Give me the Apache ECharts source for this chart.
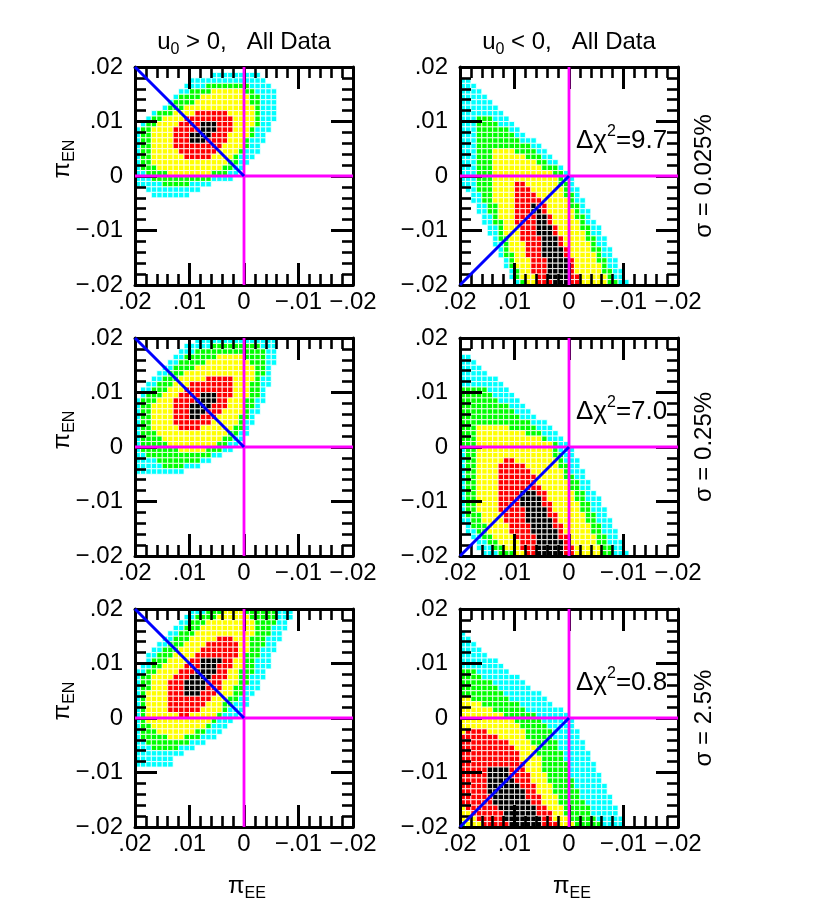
<!DOCTYPE html>
<html><head><meta charset="utf-8">
<script src="https://cdn.jsdelivr.net/npm/echarts@6/dist/echarts.min.js"></script>
<style>html,body{margin:0;padding:0;background:#fff}#c{width:830px;height:923px}</style>
</head><body><div id="c"></div>
<script>
// ---------- data ----------
const tickLabels = ['\u2212.02', '\u2212.01', '0', '.01', '.02'];   // for -0.02 ... 0.02
const columnTitlePrefix = ['u', 'u'];
const columnTitleSub = ['0', '0'];
const columnTitleRest = [' > 0,   All Data', ' < 0,   All Data'];
const sigmaLabels = ['\u03c3 = 0.025%', '\u03c3 = 0.25%', '\u03c3 = 2.5%'];
const deltaChi2 = ['9.7', '7.0', '0.8'];
const levelColors = ['#00ffff', '#00ff00', '#ffff00', '#ff0000', '#000000'];
const gridOrigin = 0.02, cellSize = 0.001, nCells = 40;
const zeroLineX = [[0, -0.02], [0, 0.02]];
const zeroLineY = [[-0.02, 0], [0.02, 0]];
const diagPos = [[0.02, 0.02], [0, 0]];
const diagNeg = [[0.02, -0.02], [0, 0]];

// rows: [row, cyanFrom, cyanTo, greenFrom, greenTo, yellowFrom, yellowTo, redFrom, redTo, blackFrom, blackTo]
// row 0 = top (piEN .020-.019), column 0 = left (piEE .020-.019)
const rowsA = [
[1,14,22],[2,10,23],[3,9,24,13,20],[4,8,25,10,21,14,19],[5,7,25,8,22,12,20],[6,6,25,7,22,11,20],
[7,5,25,6,22,9,21],[8,3,25,4,22,7,21,11,16],[9,2,25,3,22,5,21,9,17],[10,1,24,2,22,4,21,8,17,12,14],
[11,0,24,1,21,3,20,7,17,12,14],[12,0,23,1,21,3,20,7,16,10,13],[13,0,23,1,20,3,19,7,16,10,12],
[14,0,22,1,20,3,19,7,15],[15,0,22,1,19,3,18,8,14],[16,0,21,1,18,3,17,9,13],[17,0,20,1,18,3,16],
[18,0,19,1,17,4,15],[19,0,18,2,16,6,13],[20,0,17,3,13],[21,0,13,5,9],[22,2,11],[23,3,9]
];
const rowsB = [
[2,0,1],[3,0,2],[4,0,3],[5,0,4],[6,0,5],[7,0,6],[8,0,7],[9,0,8,3,5],[10,0,9,3,6],[11,0,10,3,8],
[12,0,11,3,9],[13,0,13,3,10],[14,0,14,3,12],[15,0,15,3,13,6,9],[16,0,16,3,14,6,11],[17,0,17,3,15,6,13],
[18,0,18,3,17,6,14],[19,0,19,3,18,6,16],[20,0,20,3,18,6,17],[21,0,20,3,19,6,17,10,11],
[22,1,21,3,19,6,18,10,12],[23,2,21,4,20,6,18,10,13],[24,2,22,4,20,6,19,10,14],[25,3,22,5,21,7,19,10,15,13,13],
[26,3,23,5,21,7,20,10,15,13,14],[27,4,23,6,22,7,20,10,16,14,15],[28,4,24,6,22,8,21,10,16,14,15],
[29,5,25,7,23,8,21,11,17,14,16],[30,5,25,7,23,8,22,11,17,14,16],[31,6,26,7,24,9,22,11,18,15,17],
[32,6,26,8,24,9,23,12,18,15,17],[33,7,27,8,25,9,23,12,19,15,18],[34,7,27,8,25,10,24,12,19,15,18],
[35,8,28,9,26,10,24,13,20,16,19],[36,8,28,9,26,10,25,13,20,16,19],[37,9,29,10,27,11,25,13,20,16,19],
[38,9,29,10,27,11,26,14,21,16,19],[39,10,30,11,28,12,26,14,21,17,19]
];
const rowsC = [
[0,11,25],[1,9,25,14,22],[2,8,25,11,23],[3,7,25,9,23,15,19],[4,6,25,8,23,13,20],[5,5,24,7,23,11,21],
[6,4,24,6,23,9,21],[7,3,24,5,22,8,21,13,17],[8,2,24,4,22,7,20,10,17],[9,1,23,3,22,6,20,9,17],
[10,1,23,2,22,5,20,8,17,12,14],[11,0,23,1,21,4,19,7,16,11,14],[12,0,22,1,21,3,19,7,16,10,13],
[13,0,22,1,20,3,19,7,15,10,12],[14,0,21,1,20,3,18,7,14,10,11],[15,0,21,1,19,3,18,7,13],
[16,0,20,1,19,3,17,8,11],[17,0,20,1,18,4,16],[18,0,19,1,17,5,15],[19,0,18,1,16,6,14],[20,0,17,1,15,8,12],
[21,0,15,2,13],[22,0,13,4,11],[23,0,11,5,8],[24,0,8]
];
const rowsD = [
[3,0,1],[4,0,2],[5,0,3],[6,0,4],[7,0,6],[8,0,7],[9,0,8,0,4],[10,0,9,0,5],[11,0,10,0,6],[12,0,11,0,8],
[13,0,12,0,9],[14,0,13,0,10],[15,0,15,0,12],[16,0,16,0,13,3,8],[17,0,17,0,14,3,11],[18,0,18,0,15,3,14],
[19,0,19,0,17,3,16],[20,0,20,1,17,3,16],[21,0,20,1,18,3,16],[22,0,21,1,18,3,17,8,9],[23,0,21,1,19,3,17,7,11],
[24,0,22,1,19,3,18,7,12],[25,0,22,1,20,3,18,7,13],[26,0,23,1,21,3,19,7,13],[27,0,23,1,21,3,19,7,14],
[28,0,24,1,22,3,20,7,15,11,13],[29,0,25,1,22,3,20,7,15,11,14],[30,0,25,1,23,3,21,7,16,11,14],
[31,0,26,1,23,3,21,7,16,12,15],[32,0,26,1,24,4,22,8,17,12,15],[33,0,27,2,24,4,22,8,17,12,16],
[34,1,27,2,25,5,23,9,18,13,16],[35,1,28,3,25,5,23,9,18,13,17],[36,2,28,4,26,6,24,10,19,14,17],
[37,3,29,5,26,7,24,11,19,14,18],[38,3,29,6,27,8,25,11,20,14,18],[39,4,30,7,27,10,25,12,20,14,18]
];
const rowsE = [
[0,10,28,13,25,16,19],[1,9,28,11,25,15,20],[2,8,27,10,25,13,21],[3,7,27,9,24,12,21],[4,6,26,8,24,11,21],
[5,5,26,7,23,10,20,15,17],[6,4,25,6,23,9,20,13,18],[7,3,25,5,22,8,20,12,18],[8,2,24,4,22,7,19,11,18],
[9,2,24,3,21,6,19,10,17,12,15],[10,1,24,3,21,5,19,9,17,12,14],[11,0,23,2,21,4,18,8,16,11,14],
[12,0,23,1,20,3,18,7,16,10,13],[13,0,22,1,20,3,18,6,15,9,12],[14,0,22,1,19,3,17,6,15,9,12],
[15,0,21,1,19,2,17,6,14,9,11],[16,0,20,1,18,2,16,6,13],[17,0,20,1,17,2,15,6,12],[18,0,19,1,16,2,15,6,11],
[19,0,18,1,15,2,14,8,9],[20,0,17,1,14,2,13],[21,0,16,1,13,3,12],[22,0,15,1,12,4,10],[23,0,14,1,11,6,8],
[24,0,12,2,9],[25,0,10,3,7],[26,0,8],[27,0,6],[28,0,6]
];
const rowsF = [
[4,0,0],[5,0,1],[6,0,2],[7,0,3],[8,0,4],[9,0,6],[10,0,7],[11,0,8,0,2],[12,0,10,0,3],[13,0,11,0,5],
[14,0,12,0,6],[15,0,14,0,7],[16,0,15,0,8,0,1],[17,0,16,0,10,0,3],[18,0,18,0,11,0,5],[19,0,19,0,13,0,7],
[20,0,20,0,14,0,9],[21,0,20,0,15,0,10],[22,0,21,0,16,0,11,1,4],[23,0,21,0,16,0,11,0,6],
[24,0,22,0,17,0,12,0,8],[25,0,22,0,17,0,13,0,9],[26,0,23,0,18,0,13,0,10],[27,0,23,0,18,0,14,0,10],
[28,0,24,0,19,0,14,0,11],[29,0,24,0,19,0,14,0,11,5,8],[30,0,25,0,19,0,15,0,12,5,8],
[31,0,25,0,20,0,15,0,12,5,9],[32,0,26,0,20,0,16,0,13,5,10],[33,0,26,0,21,0,16,0,13,5,11],
[34,0,27,0,21,0,17,0,14,6,11],[35,0,27,0,22,0,17,0,14,6,12],[36,0,28,0,23,0,18,1,15,7,13],
[37,0,28,0,23,0,18,2,16,8,13],[38,0,29,0,24,0,19,3,16,8,14],[39,0,29,0,25,1,20,4,17,9,14]
];

// ---------- build ----------
function cellsFrom(rows) {
  const out = [];
  rows.forEach(r => {
    const row = r[0];
    for (let c = 0; c < nCells; c++) {
      let lv = -1;
      for (let k = 0; 2 * k + 2 < r.length; k++) {
        if (c >= r[1 + 2 * k] && c <= r[2 + 2 * k]) lv = k;
      }
      if (lv >= 0) out.push([gridOrigin - cellSize * (c + 0.5), gridOrigin - cellSize * (row + 0.5), lv]);
    }
  });
  return out;
}
const FONT = '"Liberation Sans", Arial, sans-serif';
const colLeft = [135, 460], rowTop = [67, 338, 609], SIZE = 218;
const panels = [
  {rows: rowsA, c: 0, r: 0, diag: diagPos}, {rows: rowsB, c: 1, r: 0, diag: diagNeg},
  {rows: rowsC, c: 0, r: 1, diag: diagPos}, {rows: rowsD, c: 1, r: 1, diag: diagNeg},
  {rows: rowsE, c: 0, r: 2, diag: diagPos}, {rows: rowsF, c: 1, r: 2, diag: diagNeg}
];
const grids = [], xAxes = [], yAxes = [], series = [];
function baseAxis(extra) {
  return Object.assign({
    type: 'value', min: -0.02, max: 0.02, interval: 0.01, z: 3,
    splitLine: {show: false},
    axisLine: {show: true, onZero: false, lineStyle: {color: '#000', width: 3}},
    axisTick: {show: true, inside: true, length: 22, lineStyle: {color: '#000', width: 3}},
    minorTick: {show: true, splitNumber: 5, length: 11, lineStyle: {color: '#000', width: 2.6}},
    minorSplitLine: {show: false}
  }, extra);
}
const lbl = (margin) => ({show: true, margin: margin, fontSize: 24, color: '#000', fontFamily: FONT,
  formatter: v => tickLabels[Math.round(v * 100) + 2], showMinLabel: true, showMaxLabel: true});
const half = cellSize / 2;
function renderCell(params, api) {
  const x = api.value(0), y = api.value(1), lv = api.value(2);
  const p1 = api.coord([x + half, y + half]);
  const p2 = api.coord([x - half, y - half]);
  return {type: 'rect',
    shape: {x: Math.min(p1[0], p2[0]), y: Math.min(p1[1], p2[1]), width: Math.abs(p2[0] - p1[0]), height: Math.abs(p2[1] - p1[1])},
    style: {fill: levelColors[lv], stroke: '#ffffff', lineWidth: 0.8}};
}
panels.forEach((p, i) => {
  grids.push({left: colLeft[p.c], top: rowTop[p.r], width: SIZE, height: SIZE});
  xAxes.push(baseAxis({gridIndex: i, position: 'bottom', inverse: true, axisLabel: lbl(5)}));
  xAxes.push(baseAxis({gridIndex: i, position: 'top', inverse: true, axisLabel: {show: false}}));
  yAxes.push(baseAxis({gridIndex: i, position: 'left', axisLabel: lbl(12)}));
  yAxes.push(baseAxis({gridIndex: i, position: 'right', axisLabel: {show: false}}));
  const xi = 2 * i, yi = 2 * i;
  series.push({type: 'custom', xAxisIndex: xi, yAxisIndex: yi, data: cellsFrom(p.rows), renderItem: renderCell, clip: true, z: 1, silent: true});
  series.push({type: 'line', xAxisIndex: xi, yAxisIndex: yi, data: zeroLineX, symbol: 'none', z: 5, silent: true, lineStyle: {color: '#ff00ff', width: 2.8}});
  series.push({type: 'line', xAxisIndex: xi, yAxisIndex: yi, data: zeroLineY, symbol: 'none', z: 5, silent: true, lineStyle: {color: '#ff00ff', width: 2.8}});
  series.push({type: 'line', xAxisIndex: xi, yAxisIndex: yi, data: p.diag, symbol: 'none', z: 6, silent: true, lineStyle: {color: '#0000ff', width: 3}});
});

const rich = {
  m: {fontSize: 24, fontFamily: FONT, color: '#000', lineHeight: 32},
  s: {fontSize: 16, fontFamily: FONT, color: '#000', lineHeight: 15, verticalAlign: 'bottom'},
  b: {fontSize: 26, fontFamily: FONT, color: '#000', lineHeight: 34},
  p: {fontSize: 16, fontFamily: FONT, color: '#000', lineHeight: 15, verticalAlign: 'top'}
};
const graphic = [];
function addText(x, y, text, rot) {
  graphic.push({type: 'text', x: x, y: y, rotation: rot || 0, z: 10,
    style: {text: text, rich: rich, align: 'center', verticalAlign: 'middle', fill: '#000'}});
}
for (let c = 0; c < 2; c++) {
  addText(colLeft[c] + SIZE / 2, 42, '{m|' + columnTitlePrefix[c] + '}{s|' + columnTitleSub[c] + '}{m|' + columnTitleRest[c] + '}');
  addText(colLeft[c] + SIZE / 2 + 3, 886, '{m|\u03c0}{s|EE}');
}
for (let r = 0; r < 3; r++) {
  addText(62, rowTop[r] + 92, '{m|\u03c0}{s|EN}', Math.PI / 2);
  addText(704, rowTop[r] + SIZE / 2, '{m|' + sigmaLabels[r] + '}', Math.PI / 2);
  graphic.push({type: 'text', x: 576, y: rowTop[r] + 74, z: 10,
    style: {text: '{b|\u0394\u03c7}{p|2}{b|=' + deltaChi2[r] + '}', rich: rich, align: 'left', verticalAlign: 'middle'}});
}

const chart = echarts.init(document.getElementById('c'), null, {renderer: 'canvas'});
chart.setOption({animation: false, backgroundColor: '#fff', grid: grids, xAxis: xAxes, yAxis: yAxes, series: series, graphic: graphic});
</script></body></html>
